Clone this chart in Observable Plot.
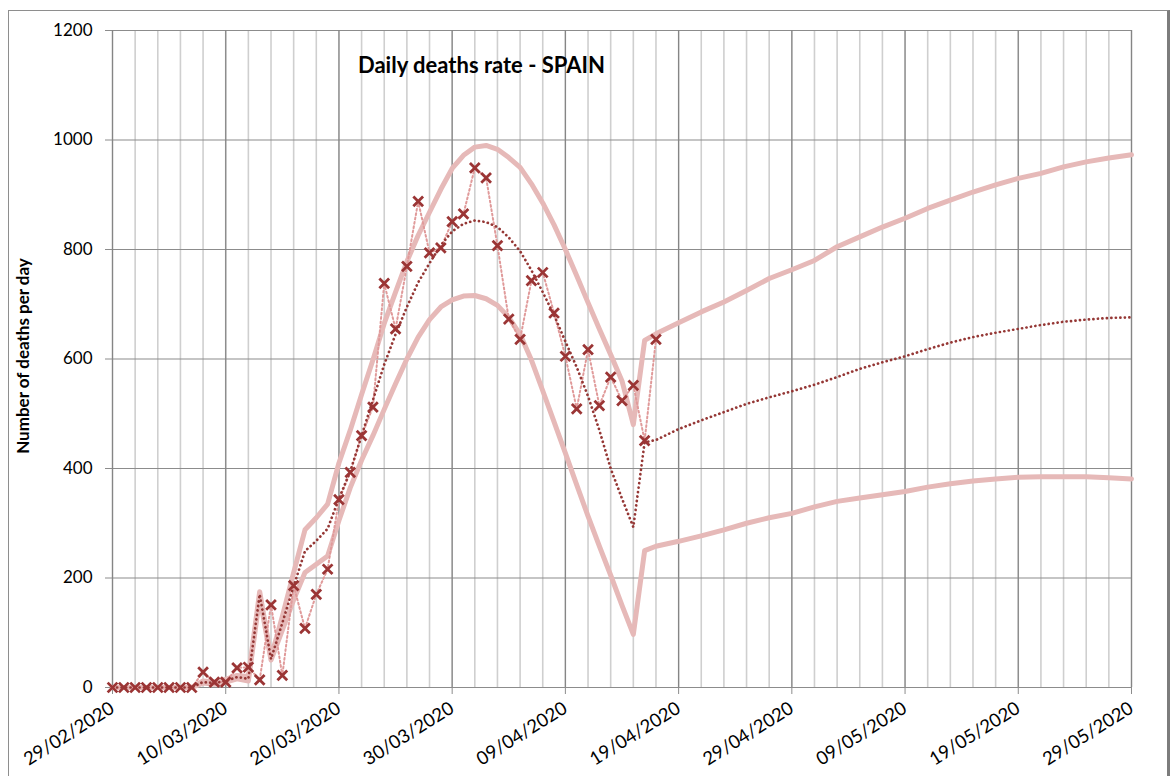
<!DOCTYPE html>
<html>
<head>
<meta charset="utf-8">
<script src="https://cdn.jsdelivr.net/npm/d3@7"></script>
<script src="https://cdn.jsdelivr.net/npm/@observablehq/plot@0.6"></script>
<style>
  html, body { margin: 0; padding: 0; background: #fff; }
  #wrap { position: relative; width: 1176px; height: 776px; overflow: hidden; font-family: Lato, "Noto Sans", sans-serif; }
  #frame { position: absolute; left: 8px; top: 10px; width: 1162px; height: 820px; border: 1.5px solid #8e8e8e; border-right: 3px solid #7c7c7c; box-sizing: border-box; }
  #chart { position: absolute; left: 0; top: 0; }
  #title { position: absolute; left: 358px; top: 51px; font-weight: bold; font-size: 22px; color: #000; white-space: nowrap; }
  #ylab { position: absolute; left: 22px; top: 356px; transform: translate(-50%, -50%) rotate(-90deg); font-weight: bold; font-size: 17px; color: #000; white-space: nowrap; }
</style>
</head>
<body>
<div id="wrap">
  <div id="frame"></div>
  <div id="chart"></div>
  <div id="title">Daily deaths rate - SPAIN</div>
  <div id="ylab">Number of deaths per day</div>
</div>
<script>
// ---- data (day offsets from 29/02/2020) ----
const startDate = [2020, 1, 29];
const observedDeaths = [0,0,0,0,0,0,0,0,28,10,10,36,37,14,151,22,186,108,170,216,343,393,460,512,738,655,769,888,794,803,851,865,949,931,807,673,636,743,758,684,605,509,617,515,567,524,552,451,636];
const fitDays = [0,1,2,3,4,5,6,7,8,9,10,11,12,13,14,15,16,17,18,19,20,21,22,23,24,25,26,27,28,29,30,31,32,33,34,35,36,37,38,39,40,41,42,43,44,45,46,47,48,50,52,54,56,58,60,62,64,66,68,70,72,74,76,78,80,82,84,86,88,90];
const upperFit = [0,0,0,0,0,0,0,0,12,10,15,22,20,175,55,130,210,288,310,335,410,470,535,598,665,722,778,826,868,910,948,972,987,990,983,968,950,920,885,845,800,752,703,655,608,560,480,634,646,666,686,704,725,747,763,780,805,823,841,857,875,890,905,918,930,939,951,960,967,973];
const middleFit = [0,0,0,0,0,0,0,0,10,8,12,19,16,170,52,118,185,249,268,290,345,395,460,525,590,645,695,740,775,808,833,847,853,850,841,822,797,762,722,680,632,585,532,470,400,345,293,448,452,472,488,503,518,530,541,553,567,582,594,605,618,630,640,648,655,662,668,672,675,676];
const lowerFit = [0,0,0,0,0,0,0,0,8,6,10,16,12,165,50,105,160,210,225,240,305,365,415,460,508,555,600,640,672,695,708,715,716,710,698,676,645,598,542,485,428,370,313,258,205,150,97,250,258,267,277,288,300,310,318,330,340,346,352,358,366,372,377,381,384,385,385,385,383,381];
const yTicks = [0,200,400,600,800,1000,1200];
const labelDays = [0,10,20,30,40,50,60,70,80,90];
const lastDay = 90;

// ---- helpers ----
const day = d => new Date(Date.UTC(startDate[0], startDate[1], startDate[2] + d));
const fmt = d3.utcFormat("%d/%m/%Y");
const obs = observedDeaths.map((v, i) => ({date: day(i), value: v}));
const mk = arr => fitDays.map((d, i) => ({date: day(d), value: arr[i]}));
const upper = mk(upperFit), middle = mk(middleFit), lower = mk(lowerFit);
const minorDates = d3.range(0, lastDay + 1, 2).map(day);
const majorDates = labelDays.map(day);

const chart = Plot.plot({
  width: 1176,
  height: 776,
  marginLeft: 112,
  marginRight: 45,
  marginTop: 30,
  marginBottom: 89,
  style: {fontFamily: "Lato, 'Noto Sans', sans-serif", fontSize: "17px", color: "#000", background: "transparent", overflow: "visible"},
  x: {type: "utc", domain: [day(0), day(lastDay)]},
  y: {domain: [0, 1200]},
  marks: [
    Plot.ruleX(minorDates, {stroke: "#cfcfcf", strokeWidth: 1.6}),
    Plot.ruleY(yTicks, {stroke: "#8c8c8c", strokeWidth: 1.2}),
    Plot.ruleX(majorDates, {stroke: "#858585", strokeWidth: 1.2}),
    Plot.axisY({ticks: yTicks, tickSize: 7, tickPadding: 13, tickFormat: d => String(d), label: null, stroke: "#8c8c8c", fill: "#000", fontSize: 17}),
    Plot.axisX({ticks: majorDates, tickSize: 7, tickPadding: 12, tickRotate: -32, tickFormat: fmt, label: null, stroke: "#8c8c8c", fill: "#000", fontSize: 18.5}),
    Plot.line(upper, {x: "date", y: "value", stroke: "#e6b9b8", strokeWidth: 5, strokeLinejoin: "round"}),
    Plot.line(lower, {x: "date", y: "value", stroke: "#e6b9b8", strokeWidth: 5, strokeLinejoin: "round"}),
    Plot.line(obs, {x: "date", y: "value", stroke: "#e09a9a", strokeWidth: 2, strokeDasharray: "1.8 2.6"}),
    Plot.line(middle, {x: "date", y: "value", stroke: "#953735", strokeWidth: 2.7, strokeDasharray: "0.1 4.4", strokeLinecap: "round"}),
    Plot.dot(obs, {x: "date", y: "value", symbol: "times", r: 4.5, stroke: "#9b3535", strokeWidth: 2.8})
  ]
});
document.getElementById("chart").appendChild(chart);
</script>
</body>
</html>
